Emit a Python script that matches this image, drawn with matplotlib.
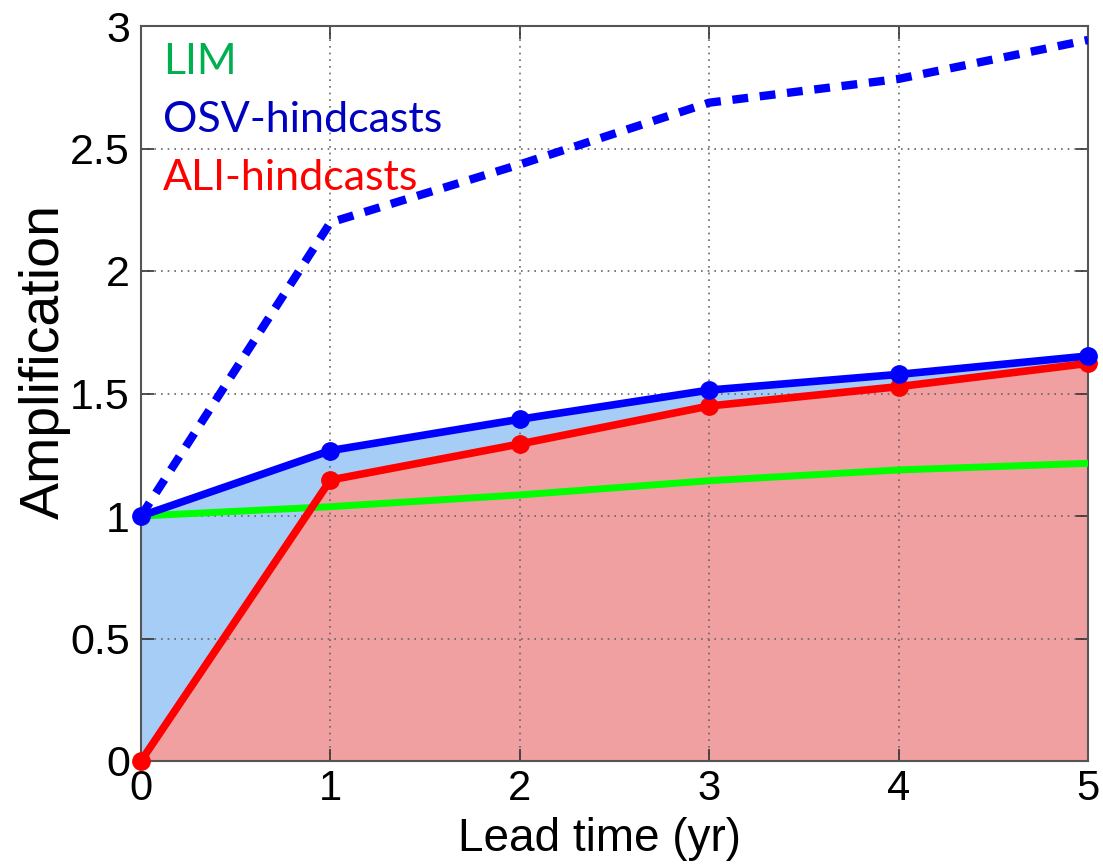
import matplotlib
matplotlib.use("Agg")
import matplotlib.pyplot as plt

lead = [0, 1, 2, 3, 4, 5]
lim = [1.0, 1.038, 1.086, 1.144, 1.188, 1.215]
osv = [1.0, 1.267, 1.395, 1.514, 1.578, 1.653]
osv_dashed = [1.0, 2.198, 2.435, 2.687, 2.784, 2.943]
ali = [0.0, 1.147, 1.294, 1.449, 1.528, 1.623]
xticks = [0, 1, 2, 3, 4, 5]
yticks = [0, 0.5, 1, 1.5, 2, 2.5, 3]
ytick_labels = ["0", "0.5", "1", "1.5", "2", "2.5", "3"]
legend_labels = ["LIM", "OSV-hindcasts", "ALI-hindcasts"]

plt.rcParams['font.family'] = ['Liberation Sans', 'DejaVu Sans']

fig = plt.figure(figsize=(11.03, 8.65), dpi=100)
ax = fig.add_axes([141/1103, 1 - 761/865, (1088-141)/1103, (761-26)/865])

ax.fill_between(lead, osv, 0, color='#a6cdf5', lw=0, zorder=1)
ax.fill_between(lead, ali, 0, color='#f0a0a0', lw=0, zorder=1.1)

ax.plot(lead, lim, color='#00ff00', lw=5, zorder=3, solid_capstyle='butt')
ax.plot(lead, osv_dashed, color='#0000ff', lw=6, ls=(0, (1.9, 1.4)), zorder=3.1)
ax.plot(lead, ali, color='#ff0000', lw=5.5, marker='o', ms=12.5, zorder=3.2, clip_on=False)
ax.plot(lead, osv, color='#0000ff', lw=5.5, marker='o', ms=12.5, zorder=3.3, clip_on=False)

ax.set_xlim(0, 5)
ax.set_ylim(0, 3)
ax.set_xticks(xticks)
ax.set_yticks(yticks)
ax.set_yticklabels(ytick_labels)
ax.set_axisbelow('line')
ax.grid(True, ls=(0, (1, 3)), color='#666666', lw=1.2)
ax.tick_params(direction='in', length=9, width=1.2, top=True, right=True,
               labelsize=31, pad=8, color='#333333')
ax.tick_params(axis='x', labelsize=30, pad=6)
for s in ax.spines.values():
    s.set_color('#555555')
    s.set_linewidth(1.5)

ax.set_xlabel('Lead time (yr)', fontsize=33)
ax.xaxis.set_label_coords(0.484, -0.0765)
ax.set_ylabel('Amplification', fontsize=40)
ax.yaxis.set_label_coords(-0.074, 0.543)

colors = ['#00b050', '#0000c0', '#ff0000']
ys = [0.951, 0.872, 0.793]
for lab, c, yy in zip(legend_labels, colors, ys):
    ax.text(0.023, yy, lab, transform=ax.transAxes, color=c, fontsize=31,
            family=['Lato', 'DejaVu Sans'], va='center', ha='left')

fig.savefig('out.png', dpi=100)
